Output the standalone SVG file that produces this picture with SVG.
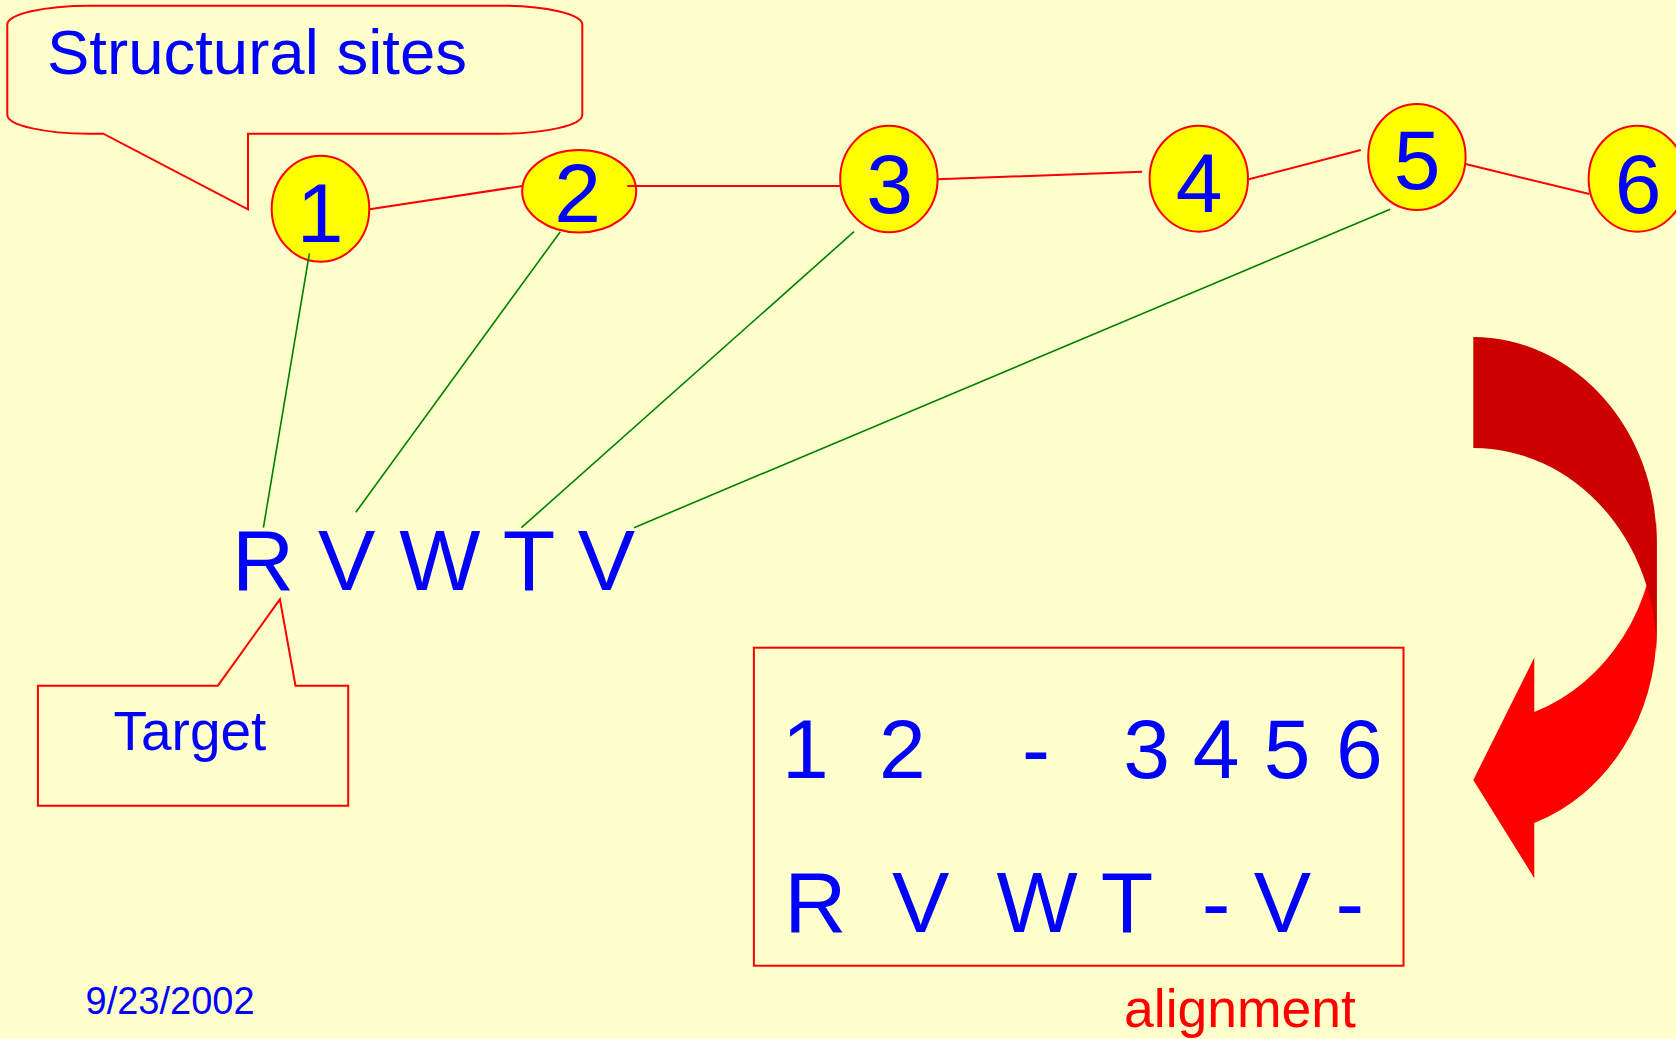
<svg xmlns="http://www.w3.org/2000/svg" width="1676" height="1039" viewBox="0 0 1676 1039">
  <style>
    .txt { font-family: "Liberation Sans", Arial, sans-serif; fill: #0000FF; }
    .node ellipse { fill: #FFFF00; stroke: #FF0000; stroke-width: 2; }
    .node text { font-size: 84px; text-anchor: middle; }
    .callout { fill: none; stroke: #FF0000; stroke-width: 2; stroke-linejoin: miter; }
    .chain { stroke: #FF0000; stroke-width: 2; fill: none; }
    .link { stroke: #008000; stroke-width: 1.6; fill: none; }
    .big { font-size: 86px; }
    .mid { text-anchor: middle; }
  </style>

  <!-- background -->
  <rect x="0" y="0" width="1676" height="1039" fill="#FFFFCC"/>

  <!-- callout: Structural sites -->
  <g id="callout-sites">
    <path class="callout" d="M 89.3 5.7 H 500.3 A 82 19 0 0 1 582.3 24.7 V 114.7 A 82 19 0 0 1 500.3 133.7 H 248 V 209.3 L 103.3 133.7 H 89.3 A 82 19 0 0 1 7.3 114.7 V 24.7 A 82 19 0 0 1 89.3 5.7 Z"/>
    <text class="txt" x="47" y="73.5" font-size="63.5">Structural sites</text>
  </g>

  <!-- structural site nodes -->
  <g id="node-1" class="node">
    <ellipse cx="320.5" cy="208.7" rx="48.8" ry="53"/>
    <text class="txt" x="320" y="241.7">1</text>
  </g>
  <g id="node-2" class="node">
    <ellipse cx="579.2" cy="191.2" rx="57" ry="41.2"/>
    <text class="txt" x="577.5" y="222.3">2</text>
  </g>
  <g id="node-3" class="node">
    <ellipse cx="888.9" cy="179" rx="48.7" ry="53.3"/>
    <text class="txt" x="889.5" y="213.3">3</text>
  </g>
  <g id="node-4" class="node">
    <ellipse cx="1198.8" cy="178.7" rx="49.2" ry="53"/>
    <text class="txt" x="1199" y="211.7">4</text>
  </g>
  <g id="node-5" class="node">
    <ellipse cx="1416.9" cy="157" rx="48.7" ry="53"/>
    <text class="txt" x="1417" y="189">5</text>
  </g>
  <g id="node-6" class="node">
    <ellipse cx="1637.3" cy="178.7" rx="48.7" ry="53"/>
    <text class="txt" x="1638" y="213.3">6</text>
  </g>

  <!-- connectors -->
  <g id="connectors">
    <line class="chain" x1="369.6" y1="209.3" x2="522.3" y2="186"/>
    <line class="chain" x1="627.2" y1="186" x2="840.2" y2="186"/>
    <line class="chain" x1="937.5" y1="179.3" x2="1142.2" y2="171.7"/>
    <line class="chain" x1="1248.8" y1="179.3" x2="1360.8" y2="150"/>
    <line class="chain" x1="1465.5" y1="164" x2="1589.3" y2="194"/>
    <line class="link" x1="309.4" y1="253.3" x2="263.4" y2="527.7"/>
    <line class="link" x1="560.3" y1="231.7" x2="355.8" y2="512.3"/>
    <line class="link" x1="854" y1="231.7" x2="521.4" y2="527.7"/>
    <line class="link" x1="1390.2" y1="209.3" x2="634" y2="527.7"/>
  </g>

  <!-- target sequence -->
  <g id="target-sequence">
    <text class="txt big" x="232" y="590">R V W T V</text>
  </g>

  <!-- callout: Target -->
  <g id="callout-target">
    <path class="callout" d="M 37.9 685.7 H 217.9 L 279.9 599.3 L 295.5 685.7 H 348.2 V 805.7 H 37.9 Z"/>
    <text class="txt" x="113.5" y="750" font-size="55">Target</text>
  </g>

  <!-- curved arrow: front band with head, then back band -->
  <g id="curved-arrow">
    <path fill="#FF0000" d="M 1656.7 518.5 A 183.3 205.1 0 0 1 1534.3 712 L 1534.3 657.5 L 1473.3 780 L 1534.3 878.2 L 1534.3 822.9 A 183.3 205.1 0 0 0 1656.7 629.5 Z"/>
    <path fill="#CC0000" d="M 1473.3 337.1 A 183.3 205.1 0 0 1 1656.7 542.2 L 1656.7 653.1 A 183.3 205.1 0 0 0 1473.3 448 Z"/>
  </g>

  <!-- alignment box -->
  <g id="alignment-box">
    <rect x="753.9" y="647.7" width="649.6" height="318" fill="none" stroke="#FF0000" stroke-width="2"/>
    <g class="txt mid" font-size="84">
      <text x="805.3" y="777.7">1</text>
      <text x="902.4" y="777.7">2</text>
      <text x="1036" y="777.7">-</text>
      <text x="1146.5" y="777.7">3</text>
      <text x="1216.2" y="777.7">4</text>
      <text x="1287" y="777.7">5</text>
      <text x="1359.3" y="777.7">6</text>
    </g>
    <g class="txt mid big">
      <text x="815.4" y="931.7">R</text>
      <text x="920.6" y="931.7">V</text>
      <text x="1037.2" y="931.7">W</text>
      <text x="1127" y="931.7">T</text>
      <text x="1216" y="931.7">-</text>
      <text x="1282.5" y="931.7">V</text>
      <text x="1349.7" y="931.7">-</text>
    </g>
  </g>

  <!-- labels -->
  <g id="label-alignment">
    <text x="1124" y="1027" font-family="Liberation Sans, Arial, sans-serif" font-size="53.5" fill="#FF0000">alignment</text>
  </g>
  <g id="label-date">
    <text class="txt" x="85.5" y="1014.3" font-size="38">9/23/2002</text>
  </g>
</svg>
